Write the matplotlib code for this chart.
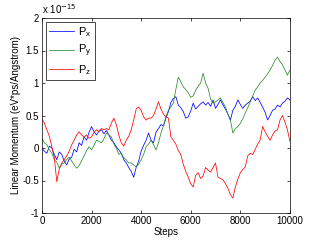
import numpy as np
from matplotlib import pyplot as plt

plt.rcParams['font.family'] = ['Liberation Sans', 'DejaVu Sans']

# steps every 100, values in units of 1e-15
steps = np.arange(0, 10001, 100)

px = [0.0, -0.05, -0.08, 0.03, 0.0, -0.1, -0.18, -0.06, -0.1, -0.2,
      -0.26, -0.17, -0.14, -0.02, -0.06, 0.08, 0.04, 0.17, 0.12, 0.24,
      0.33, 0.25, 0.2, 0.26, 0.28, 0.22, 0.27, 0.2, 0.12, 0.08,
      0.02, -0.03, -0.08, -0.18, -0.23, -0.3, -0.36, -0.45, -0.3, -0.2,
      -0.05, 0.04, 0.12, 0.23, 0.12, 0.08, 0.24, 0.3, 0.36, 0.34,
      0.46, 0.56, 0.7, 0.76, 0.79, 0.66, 0.62, 0.56, 0.46, 0.48,
      0.57, 0.69, 0.6, 0.64, 0.68, 0.71, 0.66, 0.7, 0.64, 0.74,
      0.61, 0.67, 0.74, 0.66, 0.6, 0.52, 0.43, 0.58, 0.64, 0.74,
      0.67, 0.61, 0.66, 0.69, 0.72, 0.79, 0.73, 0.77, 0.7, 0.63,
      0.55, 0.43, 0.5, 0.58, 0.6, 0.66, 0.63, 0.69, 0.72, 0.77,
      0.74]

py = [0.15, 0.08, 0.05, -0.03, -0.08, -0.18, -0.22, -0.31, -0.25, -0.23,
      -0.18, -0.14, -0.2, -0.26, -0.31, -0.27, -0.2, -0.12, -0.04, 0.02,
      -0.03, 0.04, 0.12, 0.1, 0.08, 0.14, 0.23, 0.2, 0.17, 0.06,
      0.0, -0.1, -0.08, -0.15, -0.18, -0.23, -0.23, -0.26, -0.29, -0.25,
      -0.18, -0.1, 0.02, 0.06, 0.12, 0.05, -0.03, 0.08, 0.23, 0.34,
      0.48, 0.58, 0.63, 0.69, 0.9, 1.09, 1.02, 0.94, 0.9, 0.85,
      0.78, 0.8, 0.89, 0.95, 1.0, 1.15, 1.0, 0.92, 0.75, 0.69,
      0.71, 0.74, 0.77, 0.7, 0.63, 0.52, 0.43, 0.23, 0.3, 0.33,
      0.38, 0.45, 0.54, 0.62, 0.71, 0.8, 0.89, 0.94, 1.0, 1.04,
      1.09, 1.14, 1.2, 1.27, 1.35, 1.4, 1.33, 1.28, 1.2, 1.12,
      1.2]

pz = [0.45, 0.38, 0.28, 0.18, 0.02, -0.15, -0.52, -0.32, -0.23, -0.18,
      -0.12, -0.05, 0.05, 0.12, 0.2, 0.25, 0.2, 0.17, 0.2, 0.15,
      0.17, 0.24, 0.28, 0.25, 0.3, 0.28, 0.3, 0.28, 0.38, 0.46,
      0.36, 0.2, 0.08, 0.03, 0.12, 0.18, 0.28, 0.43, 0.6, 0.63,
      0.58, 0.48, 0.43, 0.46, 0.46, 0.5, 0.6, 0.71, 0.6, 0.52,
      0.48, 0.46, 0.17, 0.12, 0.06, -0.04, -0.1, -0.25, -0.36, -0.45,
      -0.55, -0.6, -0.42, -0.38, -0.47, -0.43, -0.3, -0.34, -0.37, -0.3,
      -0.23, -0.45, -0.47, -0.49, -0.55, -0.62, -0.72, -0.77, -0.6, -0.48,
      -0.38, -0.33, -0.29, -0.12, -0.08, -0.1, -0.02, 0.06, 0.12, 0.33,
      0.25, 0.18, 0.12, 0.2, 0.26, 0.28, 0.43, 0.5, 0.4, 0.28,
      0.1]

yticks = [-1, -0.5, 0, 0.5, 1, 1.5, 2]
ytick_labels = ['-1', '-0.5', '0', '0.5', '1', '1.5', '2']
xticks = [0, 2000, 4000, 6000, 8000, 10000]

fig = plt.figure(figsize=(3.2, 2.4), dpi=100)
ax = fig.add_axes([0.131, 0.1125, 0.775, 0.8125])

ax.plot(steps, px, color='#0000ff', lw=0.55, label='P$_\\mathregular{x}$')
ax.plot(steps, py, color='#2e8b2e', lw=0.55, label='P$_\\mathregular{y}$')
ax.plot(steps, pz, color='#ff0000', lw=0.55, label='P$_\\mathregular{z}$')

ax.set_xlim(0, 10000)
ax.set_ylim(-1, 2)
ax.set_xticks(xticks)
ax.set_xticklabels([str(t) for t in xticks])
ax.set_yticks(yticks)
ax.set_yticklabels(ytick_labels)
ax.tick_params(direction='in', top=True, right=True, labelsize=7, length=2, width=0.5, pad=2)
for s in ax.spines.values():
    s.set_linewidth(0.5)

ax.set_xlabel('Steps', fontsize=7, labelpad=1)
ax.set_ylabel('Linear Momentum (eV*ps/Angstrom)', fontsize=7, labelpad=1)
ax.text(0.0, 1.01, 'x 10$^{-15}$', transform=ax.transAxes, fontsize=7, ha='left', va='bottom')

leg = ax.legend(loc='upper left', fontsize=8, fancybox=False, framealpha=1,
                edgecolor='black', handlelength=2.2, handletextpad=0.4,
                borderpad=0.3, labelspacing=0.35, borderaxespad=0.35)
leg.get_frame().set_linewidth(0.5)

fig.savefig('out.png', dpi=100)
